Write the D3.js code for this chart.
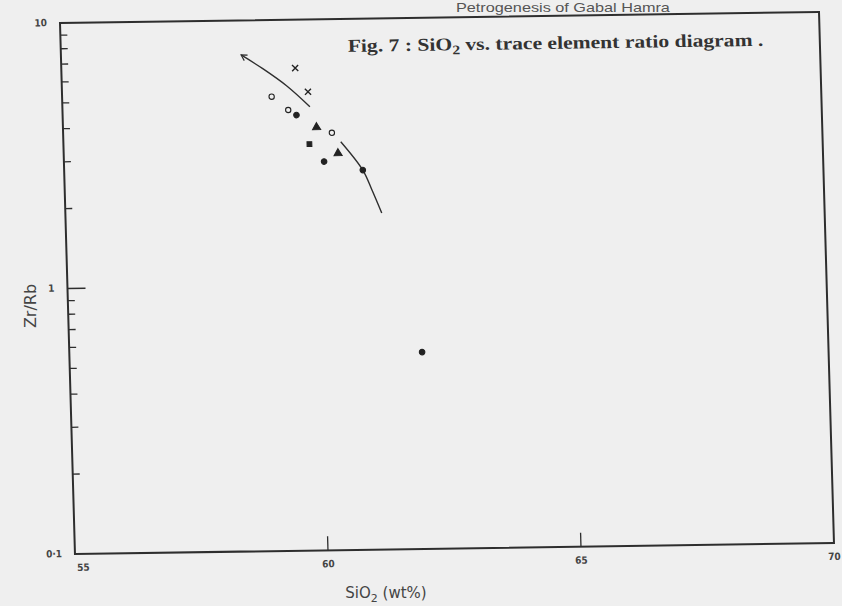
<!DOCTYPE html>
<html>
<head>
<meta charset="utf-8">
<script src="https://cdn.jsdelivr.net/npm/d3@7"></script>
<style>
  html, body { margin: 0; padding: 0; background: #efefef; }
  svg { display: block; }
</style>
</head>
<body>
<svg id="chart" width="842" height="606"></svg>
<script>
// ---- data ----
const sio2    = [59.62, 59.86, 59.14, 59.46, 59.62, 60.01, 60.31, 59.86, 60.42, 60.14, 60.90, 61.97];
const zrRb    = [6.57, 5.34, 5.14, 4.57, 4.37, 3.92, 3.73, 3.39, 3.12, 2.91, 2.69, 0.551];
const symbols = ["cross", "cross", "open", "open", "filled", "triangle", "open", "square", "triangle", "filled", "filled", "filled"];

const trend1Si = [58.56, 58.98, 59.44, 59.89];
const trend1Zr = [7.41, 6.56, 5.64, 4.69];
const trend2Si = [60.48, 60.90, 61.07, 61.25];
const trend2Zr = [3.45, 2.69, 2.26, 1.85];

const xTicks = [55, 60, 65, 70];
const xTickLabels = ["55", "60", "65", "70"];
const yTicks = [0.1, 1, 10];
const yTickLabels = ["0·1", "1", "10"];
const yMinor = [0.2, 0.3, 0.4, 0.5, 0.6, 0.7, 0.8, 0.9, 2, 3, 4, 5, 6, 7, 8, 9];

const titleText = ["Fig. 7 : SiO", "2", " vs. trace element ratio diagram ."];
const headerText = "Petrogenesis of Gabal Hamra";
const xLabel = ["SiO", "2", " (wt%)"];
const yLabel = "Zr/Rb";

// ---- layout ----
const W = 759, H = 531;
const svg = d3.select("#chart");
const ink = "#2e2e2e";

svg.append("rect").attr("width", 842).attr("height", 606).attr("fill", "#efefef");

// running header
svg.append("text")
  .attr("transform", "translate(456,12) scale(1.25,1)")
  .attr("font-family", "Liberation Sans, Arial, sans-serif")
  .attr("font-size", 13)
  .attr("fill", "#555")
  .text(headerText);

// scanned page is slightly skewed
const g = svg.append("g").attr("transform", "matrix(1,-0.0145,0.0282,1,60,23)");

const x = d3.scaleLinear().domain([55, 70]).range([0, W]);
const y = d3.scaleLog().domain([0.1, 10]).range([H, 0]);

// frame
g.append("rect")
  .attr("x", 0).attr("y", 0).attr("width", W).attr("height", H)
  .attr("fill", "none").attr("stroke", ink).attr("stroke-width", 2);

// left axis ticks (inside)
g.selectAll("line.ymin").data(yMinor).join("line")
  .attr("class", "ymin")
  .attr("x1", 0).attr("x2", 7)
  .attr("y1", d => y(d)).attr("y2", d => y(d))
  .attr("stroke", ink).attr("stroke-width", 1.3);
g.selectAll("line.ymaj").data(yTicks.filter(d => d > 0.1 && d < 10)).join("line")
  .attr("class", "ymaj")
  .attr("x1", 0).attr("x2", 18)
  .attr("y1", d => y(d)).attr("y2", d => y(d))
  .attr("stroke", ink).attr("stroke-width", 1.3);

// bottom axis ticks (inside)
g.selectAll("line.xt").data(xTicks.filter(d => d > 55 && d < 70)).join("line")
  .attr("class", "xt")
  .attr("x1", d => x(d)).attr("x2", d => x(d))
  .attr("y1", H).attr("y2", H - 14)
  .attr("stroke", ink).attr("stroke-width", 1.3);

const tickFont = "Liberation Sans Narrow, DejaVu Sans Condensed, Arial Narrow, sans-serif";

g.selectAll("text.xl").data(xTicks).join("text")
  .attr("class", "xl")
  .attr("x", (d, i) => x(d) + (i === 0 ? 8 : 0))
  .attr("y", H + 17)
  .attr("text-anchor", "middle")
  .attr("font-family", tickFont).attr("font-size", 10).attr("font-weight", "bold")
  .attr("fill", "#444")
  .text((d, i) => xTickLabels[i]);

g.selectAll("text.yl").data(yTicks).join("text")
  .attr("class", "yl")
  .attr("x", -13)
  .attr("y", d => y(d) + 3)
  .attr("text-anchor", "end")
  .attr("font-family", tickFont).attr("font-size", 10).attr("font-weight", "bold")
  .attr("fill", "#444")
  .text((d, i) => yTickLabels[i]);

// title inside plot (scan is horizontally stretched)
const t = g.append("text")
  .attr("transform", "translate(287,33) scale(1.2,1)")
  .attr("font-family", "Liberation Serif, Times New Roman, serif")
  .attr("font-size", 18).attr("font-weight", "bold")
  .attr("fill", "#333");
t.append("tspan").text(titleText[0]);
t.append("tspan").attr("dy", 4).attr("font-size", 13).text(titleText[1]);
t.append("tspan").attr("dy", -4).text(titleText[2]);

// axis titles
const xl = svg.append("text")
  .attr("x", 386).attr("y", 598)
  .attr("text-anchor", "middle")
  .attr("font-family", "DejaVu Sans, sans-serif")
  .attr("font-size", 15).attr("fill", "#444");
xl.append("tspan").text(xLabel[0]);
xl.append("tspan").attr("dy", 4).attr("font-size", 11).text(xLabel[1]);
xl.append("tspan").attr("dy", -4).text(xLabel[2]);

svg.append("text")
  .attr("transform", "translate(36,306) rotate(-90)")
  .attr("text-anchor", "middle")
  .attr("font-family", "DejaVu Sans, sans-serif")
  .attr("font-size", 16).attr("fill", "#444")
  .text(yLabel);

// trend curves
svg.append("defs").append("marker")
  .attr("id", "arr")
  .attr("viewBox", "0 0 10 10")
  .attr("refX", 1).attr("refY", 5)
  .attr("markerWidth", 8).attr("markerHeight", 8)
  .attr("markerUnits", "userSpaceOnUse")
  .attr("orient", "auto")
  .append("path")
  .attr("d", "M8,1 L1,5 L8,9")
  .attr("fill", "none").attr("stroke", ink).attr("stroke-width", 1.5);

const line = d3.line().x(d => x(d[0])).y(d => y(d[1])).curve(d3.curveCatmullRom);

g.append("path")
  .datum(trend1Si.map((s, i) => [s, trend1Zr[i]]))
  .attr("d", line)
  .attr("fill", "none").attr("stroke", ink).attr("stroke-width", 1.4)
  .attr("marker-start", "url(#arr)");

g.append("path")
  .datum(trend2Si.map((s, i) => [s, trend2Zr[i]]))
  .attr("d", line)
  .attr("fill", "none").attr("stroke", ink).attr("stroke-width", 1.4);

// samples
const symType = {
  cross: d3.symbolX, open: d3.symbolCircle, filled: d3.symbolCircle,
  triangle: d3.symbolTriangle, square: d3.symbolSquare
};
const symSize = { cross: 26, open: 22, filled: 24, triangle: 28, square: 22 };

g.selectAll("path.pt").data(sio2.map((s, i) => ({ s, z: zrRb[i], k: symbols[i] }))).join("path")
  .attr("class", "pt")
  .attr("transform", d => `translate(${x(d.s)},${y(d.z)})`)
  .attr("d", d => d3.symbol().type(symType[d.k]).size(symSize[d.k])())
  .attr("fill", d => d.k === "open" ? "#efefef" : (d.k === "cross" ? "none" : "#222"))
  .attr("stroke", "#222")
  .attr("stroke-width", d => d.k === "cross" ? 1.4 : 1.1);
</script>
</body>
</html>
